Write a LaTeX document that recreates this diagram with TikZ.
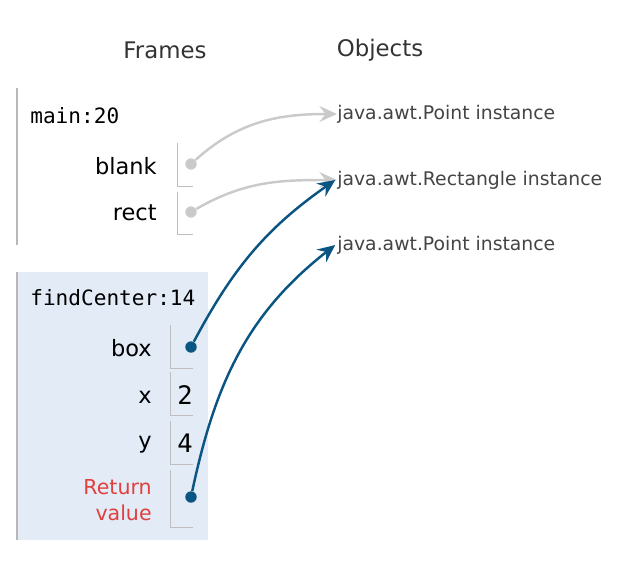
\documentclass[tikz,border=0pt]{standalone}
\usepackage{fontspec}
\setmainfont{DejaVu Sans}
\newfontfamily\codefont{DejaVu Sans Mono}
\definecolor{TextGray}{HTML}{333333}
\definecolor{ObjGray}{HTML}{444444}
\definecolor{LineGray}{HTML}{B8B8B8}
\definecolor{BoxGray}{HTML}{BEBEBE}
\definecolor{PtrGray}{HTML}{CACACA}
\definecolor{PtrBlue}{HTML}{0B5583}
\definecolor{FrameBlue}{HTML}{E2EBF6}
\definecolor{RetRed}{HTML}{E0403E}
\usetikzlibrary{arrows.meta}
\tikzset{
  header/.style={font=\fontsize{13}{15}\selectfont, text=TextGray},
  framelabel/.style={anchor=west, inner sep=0pt, font=\codefont\fontsize{12}{14}\selectfont, text=black},
  varname/.style={anchor=east, inner sep=0pt, font=\fontsize{12.8}{15}\selectfont, text=black},
  retname/.style={anchor=east, inner sep=0pt, align=right, font=\fontsize{11.7}{14.5}\selectfont, text=RetRed},
  valtext/.style={anchor=west, inner sep=0pt, font=\codefont\fontsize{14.5}{16}\selectfont, text=black},
  objlabel/.style={anchor=west, inner sep=0pt, font=\fontsize{10.7}{13}\selectfont, text=ObjGray},
  valbox/.style={draw=BoxGray, line width=0.45pt},
  graydot/.style={circle, fill=PtrGray, inner sep=0pt, minimum size=6.5pt},
  bluedot/.style={circle, fill=PtrBlue, inner sep=0pt, minimum size=6.5pt},
  grayptr/.style={-{Stealth[length=10pt, width=9pt, inset=3.5pt]}, PtrGray, line width=1.4pt},
  blueptr/.style={-{Stealth[length=10pt, width=9pt, inset=3.5pt]}, PtrBlue, line width=1.4pt}
}

\begin{document}
\begin{tikzpicture}[x=0.02cm, y=-0.02cm]
\useasboundingbox (0,0) rectangle (644,568);

% headings
\node[header] (frames) at (165,50) {Frames};
\node[header] (objects) at (380,50) {Objects};

% main frame
\draw[LineGray, line width=0.7pt] (17,88) -- (17,245);
\node[framelabel] (mainlbl) at (30,116) {main:20};
\node[varname] (blank) at (157,166) {blank};
\draw[valbox] (177,143) |- (193,186);
\node[graydot] (blankdot) at (191,164) {};
\node[varname] (rect) at (157,213) {rect};
\draw[valbox] (177,192) |- (193,234);
\node[graydot] (rectdot) at (191,212) {};

% findCenter frame
\fill[FrameBlue] (17,272) rectangle (208,540);
\draw[LineGray, line width=0.7pt] (17,272) -- (17,540);
\node[framelabel] (findlbl) at (30,298) {findCenter:14};
\node[varname] (box) at (152,348) {box};
\draw[valbox] (170,325) |- (193,368);
\node[bluedot] (boxdot) at (191,347) {};
\node[varname] (xname) at (152,397) {x};
\draw[valbox] (170,372) |- (193,415);
\node[valtext] (xval) at (177,395) {2};
\node[varname] (yname) at (152,445) {y};
\draw[valbox] (170,421) |- (193,464);
\node[valtext] (yval) at (177,443) {4};
\node[retname] (ret) at (152,500) {Return\\value};
\draw[valbox] (170,470) |- (193,527);
\node[bluedot] (retdot) at (191,497) {};

% objects
\node[objlabel] (pointA) at (337,114) {java.awt.Point instance};
\node[objlabel] (rectobj) at (337,180) {java.awt.Rectangle instance};
\node[objlabel] (pointB) at (337,245) {java.awt.Point instance};

% pointers
\draw[grayptr] (blankdot) to[out=42, in=180] (pointA.west);
\draw[grayptr] (rectdot) to[out=30, in=180] (rectobj.west);
\draw[blueptr] (boxdot) to[out=62, in=215] ([xshift=-1pt]rectobj.west);
\draw[blueptr] (retdot) to[out=78, in=218] ([xshift=-1pt]pointB.west);
\end{tikzpicture}
\end{document}
